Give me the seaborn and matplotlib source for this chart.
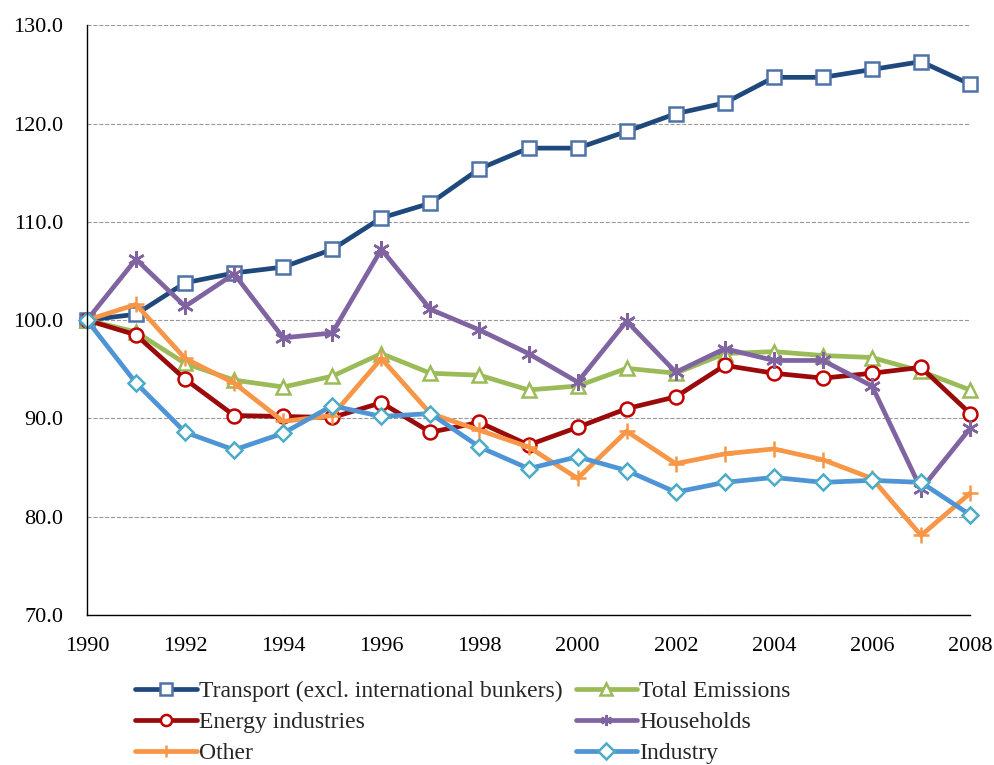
import matplotlib
matplotlib.use("Agg")
import matplotlib.pyplot as plt
import seaborn as sns

years = list(range(1990, 2009))

transport = [100.0, 100.6, 103.8, 104.8, 105.4, 107.2, 110.4, 111.9, 115.4, 117.5,
             117.5, 119.2, 121.0, 122.1, 124.7, 124.7, 125.5, 126.3, 124.0]
total = [100.0, 98.8, 95.6, 93.9, 93.2, 94.3, 96.6, 94.6, 94.4, 92.9,
         93.3, 95.1, 94.6, 96.6, 96.8, 96.4, 96.2, 94.8, 92.9]
energy = [100.0, 98.5, 94.0, 90.3, 90.2, 90.1, 91.6, 88.6, 89.6, 87.3,
          89.1, 91.0, 92.2, 95.4, 94.6, 94.1, 94.6, 95.2, 90.5]
households = [100.0, 106.2, 101.4, 104.7, 98.2, 98.7, 107.2, 101.1, 99.0, 96.6,
              93.7, 99.9, 94.7, 97.1, 95.9, 95.9, 93.3, 82.8, 89.0]
other = [100.0, 101.6, 96.1, 93.6, 89.7, 90.3, 96.1, 90.5, 88.8, 87.1,
         83.9, 88.7, 85.4, 86.4, 86.9, 85.8, 83.9, 78.1, 82.4]
industry = [100.0, 93.6, 88.6, 86.8, 88.5, 91.3, 90.2, 90.5, 87.1, 84.9,
            86.1, 84.7, 82.5, 83.5, 84.0, 83.5, 83.7, 83.5, 80.2]

sns.set_style("white")
plt.rcParams['font.family'] = ['Liberation Serif', 'DejaVu Serif']

fig = plt.figure(figsize=(9.94, 7.65), dpi=100)
ax = fig.add_axes([0.0875, 0.196, 0.8885, 0.771])

# (label, values, line colour, marker, marker edge colour)
series = [
    ("Transport (excl. international bunkers)", transport, "#1F497D", "s", "#4F73A8"),
    ("Total Emissions", total, "#9BBB59", "^", "#9BBB59"),
    ("Energy industries", energy, "#9B0A0A", "o", "#C00000"),
    ("Households", households, "#8064A2", (6, 2, 0), "#8064A2"),
    ("Other", other, "#F79646", "+", "#F79646"),
    ("Industry", industry, "#4F94D4", "D", "#4BACC6"),
]

handles = {}
for label, vals, col, mk, mec in series:
    ms = 8 if mk == "D" else 10
    if mk in ("+", (6, 2, 0)):
        ms = 12
    sns.lineplot(x=years, y=vals, ax=ax, color=col, linewidth=3.4,
                 marker=mk, markersize=ms, markerfacecolor="white",
                 markeredgecolor=mec, markeredgewidth=1.8, clip_on=False,
                 label=label, legend=False)
    handles[label] = ax.lines[-1]

ax.set_xlim(1990, 2008)
ax.set_ylim(70, 130)
ax.set_xticks(range(1990, 2009))
ax.set_xticklabels([str(y) if y % 2 == 0 else "" for y in years])
ax.set_yticks(range(70, 131, 10))
ax.set_yticklabels([f"{v:.1f}" for v in range(70, 131, 10)])
ax.tick_params(axis="both", direction="out", length=6, width=1, labelsize=16, colors="black")
ax.tick_params(axis="y", pad=11)
ax.tick_params(axis="x", pad=10)
ax.yaxis.grid(True, linestyle="--", color="#999999", linewidth=0.8)
ax.xaxis.grid(False)
ax.set_axisbelow(True)
for s in ["top", "right"]:
    ax.spines[s].set_visible(False)
for s in ["left", "bottom"]:
    ax.spines[s].set_color("black")
    ax.spines[s].set_linewidth(1.0)
ax.set_xlabel("")
ax.set_ylabel("")

# legend rows go left-to-right, matplotlib fills column by column
order = ["Transport (excl. international bunkers)", "Energy industries", "Other",
         "Total Emissions", "Households", "Industry"]
leg = fig.legend([handles[k] for k in order], order, ncol=2, frameon=False,
                 loc="upper left", bbox_to_anchor=(0.136, 0.11), fontsize=17,
                 handlelength=2.6, handletextpad=0.1, columnspacing=0.55,
                 labelspacing=0.4, borderaxespad=0, borderpad=0)
for h in leg.legend_handles:
    h.set_markersize(8)

fig.savefig("out.png", dpi=100)
